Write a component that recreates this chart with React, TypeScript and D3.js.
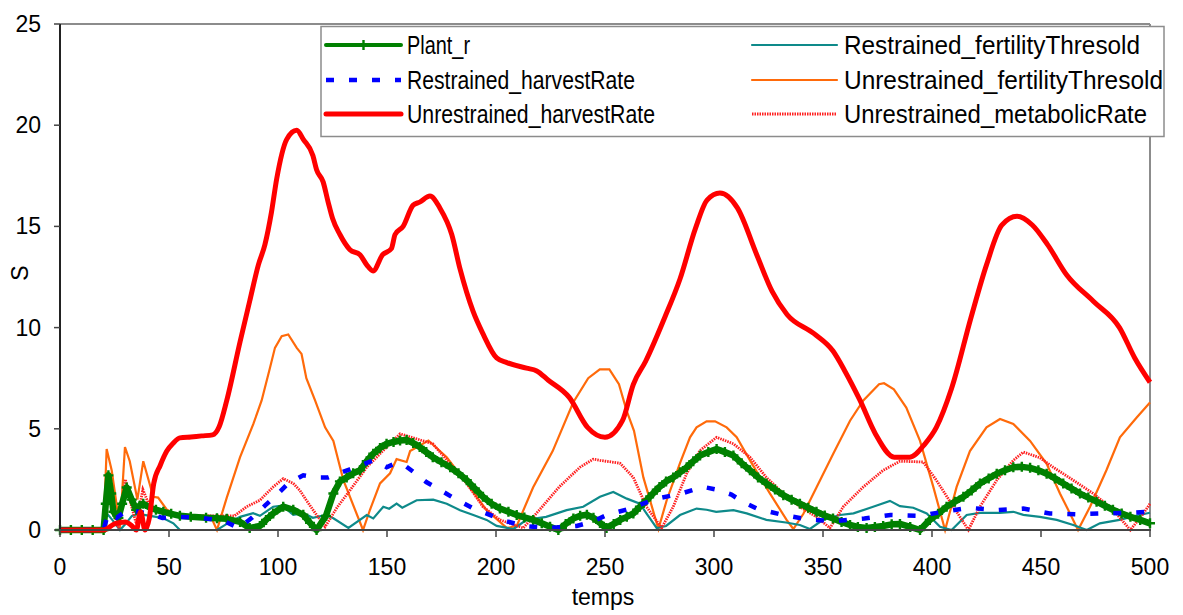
import React from "react";
import * as d3 from "d3";

type P = [number, number];

const xTicks = [0, 50, 100, 150, 200, 250, 300, 350, 400, 450, 500];
const yTicks = [0, 5, 10, 15, 20, 25];

const seriesNames = [
  "Plant_r",
  "Restrained_harvestRate",
  "Unrestrained_harvestRate",
  "Restrained_fertilityThresold",
  "Unrestrained_fertilityThresold",
  "Unrestrained_metabolicRate",
];

const plantR: P[] = [
  [0, 0], [5, 0], [10, 0], [15, 0], [20, 0], [21, 1.3], [22.2, 2.7], [23.5, 1.8], [24.5, 0.9], [26.8, 0.6],
  [28.5, 1.3], [30.6, 2.1], [32.9, 1.5], [35, 1.0], [36.5, 1.2], [38.2, 1.3], [41.3, 1.1], [44, 1.0], [47.4, 0.9],
  [51, 0.8], [55, 0.7], [60, 0.65], [67, 0.6], [72, 0.58], [76.5, 0.55], [82.6, 0.4], [87, 0.1], [91.7, 0.2],
  [94.5, 0.5], [97.8, 0.82], [102.4, 1.15], [107, 1.0], [111.6, 0.75], [114.7, 0.35], [117.7, 0], [122, 0.7],
  [125.4, 1.8], [128.4, 2.4], [131.5, 2.6], [134.5, 2.8], [137.6, 2.95], [140.7, 3.4], [143.7, 3.77], [146.8, 4.05],
  [149.8, 4.26], [153, 4.35], [156, 4.42], [159, 4.45], [162, 4.3], [165, 4.1], [168, 3.85], [171, 3.6], [175, 3.35],
  [179, 3.1], [182.8, 2.8], [186.6, 2.46], [190.3, 2.05], [194, 1.64], [198, 1.3], [201.8, 1.06], [205.7, 0.9],
  [209.5, 0.74], [213, 0.62], [217, 0.5], [221, 0.33], [224.8, 0.16], [228.6, 0], [232, 0.3], [235.5, 0.57],
  [238.6, 0.7], [241.7, 0.75], [244.7, 0.6], [247.7, 0.35], [250.7, 0.1], [254, 0.3], [257, 0.5], [260, 0.65],
  [263, 0.82], [266, 1.15], [269, 1.47], [272, 1.8], [275, 2.13], [278, 2.4], [281.3, 2.6], [284.4, 2.85],
  [287.5, 3.1], [290.5, 3.4], [293.6, 3.68], [297.4, 3.85], [301.2, 4.0], [305, 3.85], [308.9, 3.68], [312.7, 3.3],
  [316.5, 2.95], [320.2, 2.6], [324, 2.3], [328, 2.0], [331.8, 1.72], [335.6, 1.5], [339.4, 1.3], [343.2, 1.1],
  [347, 0.9], [350.8, 0.72], [354.6, 0.57], [358.5, 0.4], [362.4, 0.25], [366, 0.15], [370, 0.1], [373.8, 0.15],
  [377.6, 0.2], [381.5, 0.28], [385.3, 0.3], [390, 0.15], [394.5, 0], [399, 0.5], [402.8, 0.8], [406.7, 1.15],
  [410.5, 1.4], [414.4, 1.64], [418.2, 1.95], [422, 2.3], [426, 2.55], [429.7, 2.78], [433.5, 2.95], [437.3, 3.1],
  [441.2, 3.12], [445, 3.07], [448.8, 2.95], [452.6, 2.78], [456.4, 2.55], [460.2, 2.3], [464, 2.05], [467.9, 1.8],
  [471.7, 1.6], [475.5, 1.4], [479.3, 1.2], [483, 1.0], [487, 0.82], [491, 0.65], [495.5, 0.5], [500, 0.33],
];

const restrainedHarvest: P[] = [
  [0, 0], [20, 0], [22, 0.8], [26, 0.6], [31, 1.0], [36, 0.9], [41, 0.8], [47, 0.6], [55, 0.65], [65, 0.6],
  [75, 0.45], [82, 0.1], [88, 0.6], [94, 1.2], [100, 1.8], [104.7, 2.3], [111.6, 2.7], [117, 2.6], [123, 2.6],
  [128, 2.8], [133, 3.0], [138, 3.2], [143.7, 3.44], [149.8, 3.1], [154, 3.3], [158, 3.2], [163, 2.8], [168, 2.37],
  [174, 2.0], [179.7, 1.64], [184.6, 1.35], [189.6, 1.06], [196, 0.8], [202.6, 0.5], [212.5, 0.2], [224.8, 0.1],
  [237, 0.2], [244, 0.4], [250.8, 0.74], [261.5, 1.06], [273.7, 1.55], [285, 1.8], [295, 2.13], [301, 2.0],
  [308, 1.75], [313, 1.4], [319.6, 1.06], [331.8, 0.74], [344, 0.5], [356, 0.45], [369, 0.57], [381, 0.74],
  [394.5, 0.7], [405, 0.9], [416.7, 1.1], [429.7, 0.98], [441.9, 1.06], [454, 0.82], [466.4, 0.78], [479.4, 0.82],
  [490, 0.85], [500, 0.9],
];

const unrestrainedHarvest: P[] = [
  [0, 0], [20, 0], [25, 0.3], [30, 0.4], [33, 0.2], [35, 0], [37, 0.9], [39, 0], [41, 0.6], [43, 2.3], [46, 3.2],
  [49, 3.9], [52, 4.3], [55, 4.55], [60, 4.6], [65, 4.65], [70, 4.7], [73, 5.1], [76.5, 6.4], [82.6, 9.3],
  [87, 11.3], [91, 13.1], [94, 14.1], [97, 15.7], [99.4, 17.35], [104, 19.3], [108.6, 19.75], [111.6, 19.3],
  [116, 18.5], [117.7, 17.8], [120.7, 17.2], [123, 16.2], [125, 15.4], [128.4, 14.6], [133, 13.85], [137.6, 13.6],
  [140.7, 13.1], [143.6, 12.8], [148, 13.6], [152, 13.9], [153.7, 14.6], [157.4, 15.0], [162, 16.05], [165, 16.2],
  [169.7, 16.5], [174.3, 15.9], [179.7, 14.6], [183.5, 12.9], [189.5, 10.8], [194, 9.7], [200.3, 8.5], [205, 8.27],
  [214, 8.0], [218.7, 7.86], [224, 7.4], [233.6, 6.55], [242, 5.07], [250, 4.58], [258, 5.4], [263, 7.2],
  [268.7, 8.35], [277.4, 10.5], [284.4, 12.4], [291.5, 14.9], [296.8, 16.3], [302.7, 16.65], [310.8, 15.9],
  [319.6, 13.6], [326.6, 11.8], [333.5, 10.65], [345.9, 9.7], [354.6, 8.84], [360, 7.86], [367, 6.4], [374, 4.76],
  [382.7, 3.6], [389.8, 3.6], [396.8, 4.26], [402, 5.07], [409, 7.0], [417.9, 10.5], [425, 13.1], [432, 15.06],
  [439, 15.5], [446, 15.07], [453, 14.1], [461.8, 12.6], [474, 11.3], [486, 10.0], [493, 8.5], [500, 7.3],
];

const restrainedFertility: P[] = [
  [0, 0], [20, 0], [21.4, 0.83], [24, 0.5], [27.5, 0], [30, 0.3], [33, 0.7], [36, 0.8], [41.3, 0.7], [47, 0.6],
  [52, 0.33], [55, 0], [72, 0], [76.5, 0.3], [82.6, 0.65], [88.6, 0.83], [91.7, 0.7], [97.8, 1.15], [102, 1.2],
  [107, 0.75], [111.6, 0.83], [116, 0.6], [122, 0.75], [125.4, 0.58], [132.3, 0.1], [140.7, 0.74], [143.7, 0.57],
  [148.3, 1.15], [151, 1.05], [154.4, 1.3], [157, 1.1], [163.6, 1.47], [171.2, 1.5], [177.4, 1.3], [183.5, 0.98],
  [189.6, 0.74], [195.7, 0.5], [200.3, 0.2], [208, 0.05], [214, 0.5], [223, 0.65], [232.4, 0.98], [240, 1.15],
  [247.7, 1.64], [253.8, 1.88], [260, 1.55], [266, 1.3], [269, 0.82], [273.7, 0.1], [278, 0.2], [284.4, 0.74],
  [292, 1.06], [296.6, 1.0], [301, 0.9], [308.9, 0.98], [315, 0.82], [324, 0.5], [333, 0.37], [339.4, 0.25],
  [344, 0.05], [350, 0.5], [357.8, 0.74], [364, 0.82], [373, 1.15], [380.7, 1.44], [385.3, 1.18], [391.4, 1.1],
  [397.6, 0.82], [403.7, 0.16], [409, 0], [415.9, 0.74], [422, 0.85], [431, 0.85], [437.3, 0.9], [441.9, 0.75],
  [449.5, 0.65], [457.2, 0.5], [464.8, 0.25], [471, 0], [477, 0.33], [486, 0.5], [495, 0.74], [500, 0.85],
];

const unrestrainedFertility: P[] = [
  [0, 0], [20, 0], [21.4, 4.0], [23.7, 2.95], [27.5, 0.1], [29.8, 4.1], [32, 3.4], [35.5, 1.5], [38.2, 3.4],
  [42.8, 1.64], [45, 1.6], [49, 1.0], [55, 0.7], [69, 0.7], [72, 0], [76.5, 1.6], [82.6, 3.6], [88.7, 5.24],
  [92.5, 6.4], [96.3, 8.0], [98.6, 9.0], [101.7, 9.58], [104.7, 9.66], [108.6, 9.0], [110.8, 8.7], [113, 7.5],
  [117, 6.4], [121.6, 5.07], [125.4, 4.4], [130, 2.46], [139, 0], [142.2, 1.0], [146.8, 2.3], [151.4, 2.8],
  [154.4, 3.5], [159, 3.36], [160.6, 3.9], [169, 4.42], [177.4, 3.6], [186.6, 2.3], [195.7, 0.98], [205, 0.1],
  [209.5, 0.2], [217, 2.1], [226, 3.9], [235.4, 6.3], [242.3, 7.5], [247.6, 7.94], [252, 7.94], [256.4, 7.2],
  [259.9, 5.9], [263.3, 4.9], [267.6, 2.6], [274.5, 0.05], [278.3, 1.47], [284.4, 3.3], [289, 4.58], [292, 5.07],
  [296.6, 5.37], [300.5, 5.37], [305.8, 5.07], [310.4, 4.58], [316.5, 3.44], [325.7, 1.8], [333.3, 0.5],
  [336.4, 0.05], [341, 0.8], [347, 2.1], [354.7, 3.77], [362.4, 5.4], [368.5, 6.4], [375.7, 7.2], [378, 7.25],
  [382.5, 6.95], [388.2, 6.05], [394.5, 4.4], [400.6, 2.13], [406, 0], [411.3, 2.13], [417.4, 3.9], [425, 5.07],
  [431.2, 5.48], [437.3, 5.24], [445, 4.4], [452.6, 3.27], [458.7, 1.8], [463.3, 0.82], [467, 0], [472.5, 1.15],
  [480, 2.95], [486.2, 4.58], [493.9, 5.56], [500, 6.3],
];

const unrestrainedMetabolic: P[] = [
  [0, 0], [20, 0], [21, 1.0], [22, 2.4], [24, 1.0], [27, 0.1], [30, 2.5], [32, 1.5], [35, 0.3], [38, 2.0],
  [41, 1.2], [45, 1.0], [50, 0.8], [60, 0.7], [70, 0.7], [80, 0.7], [85.6, 1.15], [91.7, 1.47], [97.8, 2.13],
  [102.4, 2.54], [107, 2.3], [110, 1.96], [113, 1.47], [116, 1.0], [121.6, 0.16], [127, 1.1], [133, 1.96],
  [140.7, 3.1], [148.3, 3.93], [156, 4.75], [163.6, 4.5], [171, 4.26], [179, 3.27], [186.6, 2.3], [194, 1.15],
  [201.8, 0.5], [212.5, 0.1], [220, 1.0], [229, 2.13], [238.5, 3.1], [244.6, 3.5], [247.7, 3.44], [256.9, 3.3],
  [263, 2.6], [269, 1.15], [276, 0.1], [281.3, 1.15], [287.5, 2.8], [293.6, 3.93], [301.2, 4.58], [308.9, 4.26],
  [316.5, 3.6], [324, 2.6], [331.8, 1.8], [339.4, 1.15], [347, 0.65], [353.2, 0.1], [359.3, 1.15], [368.5, 2.13],
  [377.6, 2.95], [385.3, 3.4], [396, 3.36], [402, 2.46], [409.8, 1.15], [416.7, 0], [422, 1.15], [429.7, 2.46],
  [437.3, 3.44], [441.9, 3.85], [449.5, 3.57], [455.6, 3.1], [464.8, 2.46], [474, 1.8], [483, 1.0], [491, 0],
  [497, 0.82], [500, 1.3],
];

const legendWidths = [63, 228, 248, 296, 319, 303];

const FONT = "'Liberation Sans', Arial, sans-serif";

export default function App() {
  const x = d3.scaleLinear().domain([0, 500]).range([60, 1150]);
  const y = d3.scaleLinear().domain([0, 25]).range([530, 24]);
  const line = d3
    .line<P>()
    .x((d) => x(d[0]))
    .y((d) => y(d[1]));
  const smoothLine = d3
    .line<P>()
    .x((d) => x(d[0]))
    .y((d) => y(d[1]))
    .curve(d3.curveMonotoneX);

  const styles: Record<string, any> = {
    Plant_r: { stroke: "#008000", strokeWidth: 4 },
    Restrained_harvestRate: { stroke: "#0000FF", strokeWidth: 4.5, strokeDasharray: "8,15" },
    Unrestrained_harvestRate: { stroke: "#FF0000", strokeWidth: 5 },
    Restrained_fertilityThresold: { stroke: "#0E8A8A", strokeWidth: 2.2 },
    Unrestrained_fertilityThresold: { stroke: "#FF6A0A", strokeWidth: 2.2 },
    Unrestrained_metabolicRate: { stroke: "#FF2020", strokeWidth: 2.8, strokeDasharray: "1.5,1" },
  };

  const cross = (cx: number, cy: number, k: string | number, s = 4.5) => (
    <path
      key={k}
      d={`M${cx - s},${cy}H${cx + s}M${cx},${cy - s}V${cy + s}`}
      stroke="#008000"
      strokeWidth={2.4}
      fill="none"
    />
  );

  const legendRows = [
    { name: seriesNames[0], col: 0, row: 0 },
    { name: seriesNames[1], col: 0, row: 1 },
    { name: seriesNames[2], col: 0, row: 2 },
    { name: seriesNames[3], col: 1, row: 0 },
    { name: seriesNames[4], col: 1, row: 1 },
    { name: seriesNames[5], col: 1, row: 2 },
  ];
  const colLine = [
    [326, 401],
    [752, 837],
  ];
  const colText = [407, 844];
  const rowY = [45, 80, 114];

  return (
    <svg
      width={1183}
      height={615}
      style={{ position: "absolute", left: 0, top: 0, background: "#fff" }}
      fontFamily={FONT}
    >
      <rect x={0} y={0} width={1183} height={615} fill="#fff" />
      {/* plot frame */}
      <line x1={60} y1={24} x2={1150} y2={24} stroke="#8c8c8c" strokeWidth={2} />
      <line x1={1150} y1={24} x2={1150} y2={530} stroke="#8c8c8c" strokeWidth={2} />

      {/* series */}
      <path d={line(unrestrainedFertility) || ""} fill="none" {...styles.Unrestrained_fertilityThresold} />
      <path d={line(restrainedFertility) || ""} fill="none" {...styles.Restrained_fertilityThresold} />
      <path d={line(unrestrainedMetabolic) || ""} fill="none" {...styles.Unrestrained_metabolicRate} />
      <path d={line(plantR) || ""} fill="none" stroke="#008000" strokeWidth={6.5} strokeLinejoin="round" />
      <g>{plantR.map((d, i) => cross(x(d[0]), y(d[1]), i, 5))}</g>
      <path d={line(restrainedHarvest) || ""} fill="none" {...styles.Restrained_harvestRate} />
      <path
        d={smoothLine(unrestrainedHarvest) || ""}
        fill="none"
        strokeLinejoin="round"
        {...styles.Unrestrained_harvestRate}
      />

      {/* axes */}
      <line x1={60} y1={24} x2={60} y2={531} stroke="#222" strokeWidth={2} />
      <line x1={59} y1={530} x2={1151} y2={530} stroke="#444" strokeWidth={2} />
      {yTicks.map((t) => (
        <g key={"y" + t}>
          <line x1={54} x2={60} y1={y(t)} y2={y(t)} stroke="#444" strokeWidth={1.5} />
          <text x={41} y={y(t) + 8} fontSize={23} textAnchor="end" fill="#000">
            {t}
          </text>
        </g>
      ))}
      {xTicks.map((t) => (
        <g key={"x" + t}>
          <line x1={x(t)} x2={x(t)} y1={530} y2={537} stroke="#444" strokeWidth={1.5} />
          <text x={x(t)} y={575} fontSize={23} textAnchor="middle" fill="#000">
            {t}
          </text>
        </g>
      ))}
      <text x={603} y={605} fontSize={23} textAnchor="middle" fill="#000">
        temps
      </text>
      <text
        x={0}
        y={0}
        fontSize={23}
        textAnchor="middle"
        fill="#000"
        transform="translate(28,273) rotate(-90)"
      >
        S
      </text>

      {/* legend */}
      <rect x={321} y={26.5} width={843} height={110} fill="#fff" stroke="#8c8c8c" strokeWidth={1.5} />
      {legendRows.map((r, i) => {
        const st = styles[r.name];
        const [lx1, lx2] = colLine[r.col];
        const ly = rowY[r.row];
        return (
          <g key={r.name}>
            <line
              x1={lx1}
              x2={lx2}
              y1={ly}
              y2={ly}
              stroke={st.stroke}
              strokeWidth={st.strokeWidth}
              strokeDasharray={st.strokeDasharray}
              strokeLinecap={r.name === "Restrained_harvestRate" || r.name === "Unrestrained_metabolicRate" ? "butt" : "round"}
            />
            {r.name === "Plant_r" && cross((lx1 + lx2) / 2, ly, "lg", 5)}
            <text
              x={colText[r.col]}
              y={ly + 9}
              fontSize={25.5}
              fill="#000"
              textLength={legendWidths[i]}
              lengthAdjust="spacingAndGlyphs"
            >
              {r.name}
            </text>
          </g>
        );
      })}
    </svg>
  );
}
